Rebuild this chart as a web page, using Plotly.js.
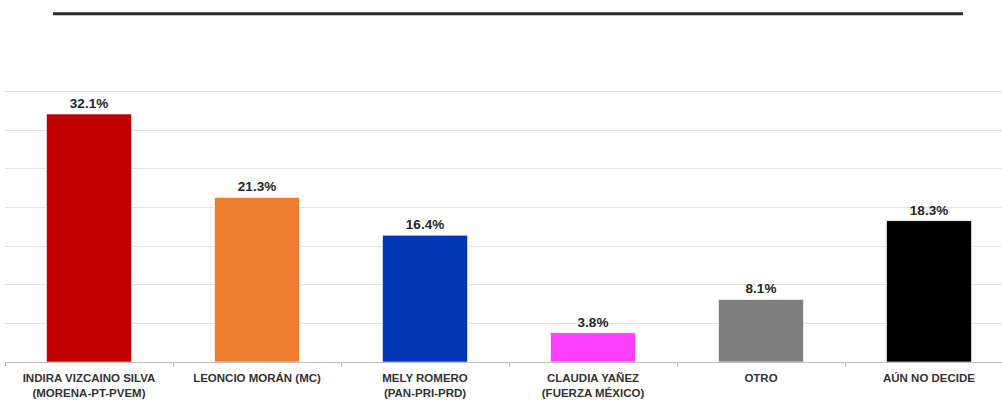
<!DOCTYPE html>
<html><head><meta charset="utf-8">
<script src="https://cdn.plot.ly/plotly-3.0.1.min.js"></script>
<style>html,body{margin:0;padding:0;background:#fff;overflow:hidden}#chart{width:1002px;height:403px}</style>
</head><body><div id="chart"></div>
<script>
const categories = ["INDIRA VIZCAINO SILVA<br>(MORENA-PT-PVEM)", "LEONCIO MORÁN (MC)", "MELY ROMERO<br>(PAN-PRI-PRD)", "CLAUDIA YAÑEZ<br>(FUERZA MÉXICO)", "OTRO", "AÚN NO DECIDE"];
const values = [32.1, 21.3, 16.4, 3.8, 8.1, 18.3];
const barColors = ["#C00000", "#ED7D31", "#0035B4", "#FF3FFF", "#7F7F7F", "#000000"];
const labels = values.map(v => v.toFixed(1) + "%");

const W = 1002, H = 403;
const plotLeft = 5, plotBottom = 361.7;
const pxPerUnit = 270 / 35;
const yMax = 35.6;
const plotTop = plotBottom - yMax * pxPerUnit;
const catWidth = 168;
const plotW = W - plotLeft;

const trace = {
  type: "bar",
  x: categories,
  y: values,
  marker: {color: barColors, line: {color: "rgba(255,255,255,0.6)", width: 1}},
  text: labels,
  textposition: "outside",
  cliponaxis: false,
  textfont: {family: "Liberation Sans, Arial, sans-serif", size: 13.5, color: "#262626", weight: "bold"},
  hoverinfo: "none"
};

const layout = {
  width: W, height: H,
  margin: {l: plotLeft, r: 0, t: plotTop, b: H - plotBottom, pad: 0},
  paper_bgcolor: "#ffffff", plot_bgcolor: "#ffffff",
  showlegend: false,
  bargap: 0.494,
  xaxis: {
    type: "category",
    range: [-0.5, -0.5 + plotW / catWidth],
    showline: true, linecolor: "#bfbfbf", linewidth: 1,
    ticks: "outside", tickson: "boundaries", ticklen: 4, tickcolor: "#bfbfbf",
    ticklabelstandoff: 5,
    tickfont: {family: "Liberation Sans, Arial, sans-serif", size: 11.5, color: "#333333", weight: "bold"},
    showgrid: false, fixedrange: true
  },
  yaxis: {
    range: [0, yMax], tick0: 0, dtick: 5, showticklabels: false,
    showgrid: true, gridcolor: "#e3e3e3", gridwidth: 1,
    zeroline: false, fixedrange: true
  },
  shapes: [{
    type: "line", xref: "paper", yref: "paper",
    x0: (53 - plotLeft) / plotW, x1: (963 - plotLeft) / plotW,
    y0: (plotBottom - 14) / (plotBottom - plotTop), y1: (plotBottom - 14) / (plotBottom - plotTop),
    line: {color: "#2b2b2b", width: 3}
  }]
};

Plotly.newPlot("chart", [trace], layout, {displayModeBar: false, staticPlot: true});
</script></body></html>
